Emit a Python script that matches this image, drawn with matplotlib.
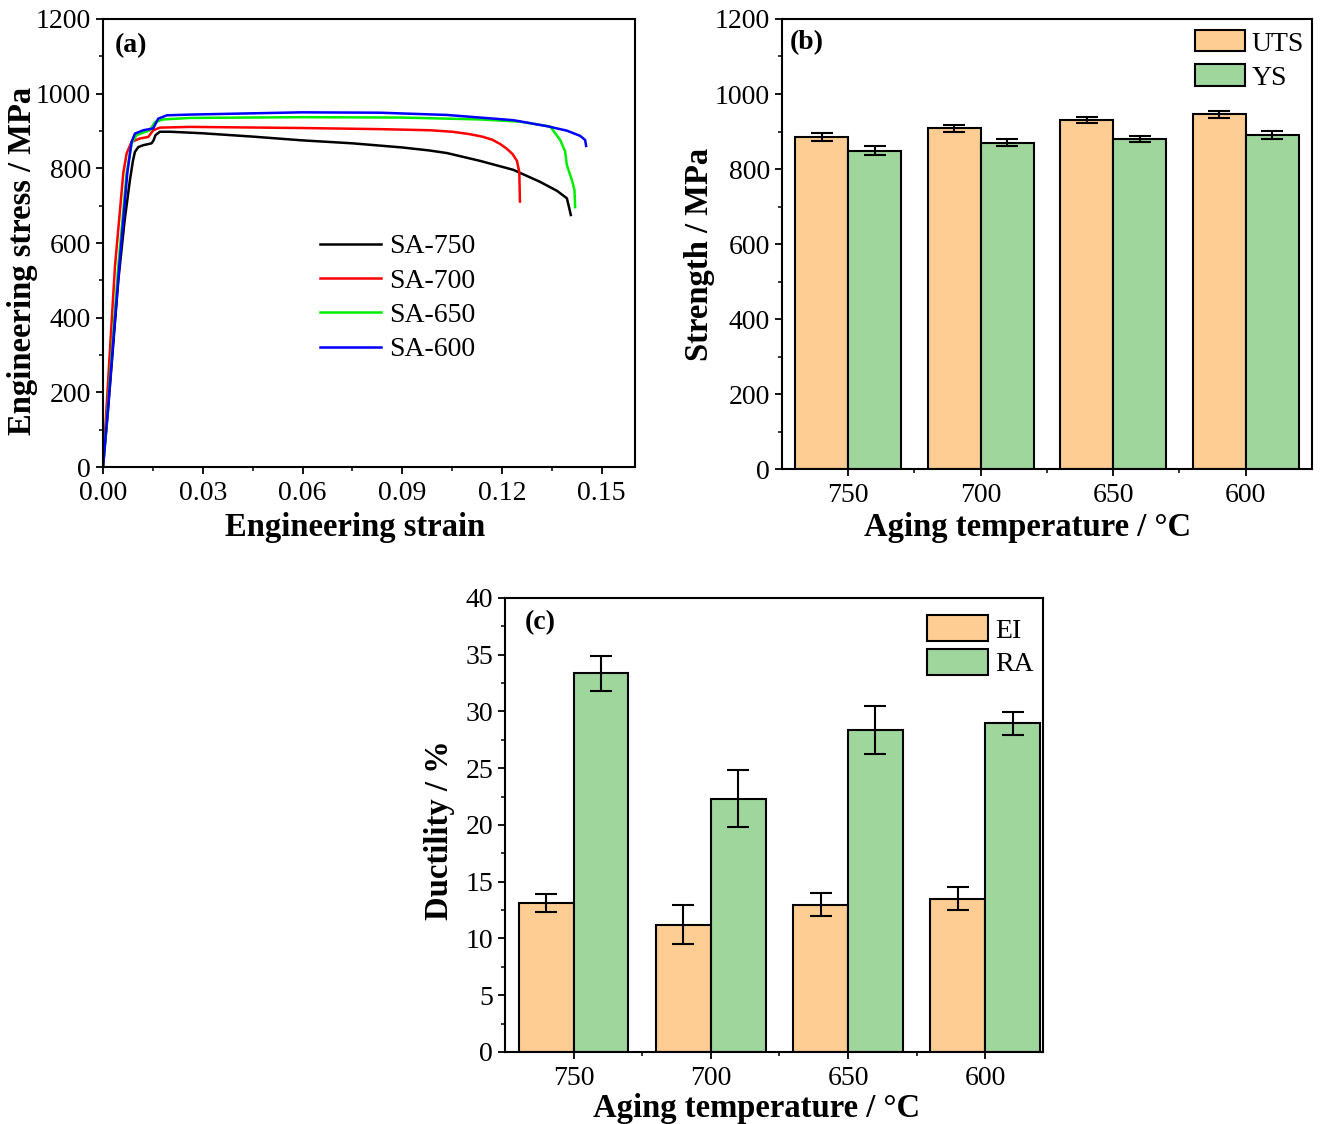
import numpy as np
import matplotlib
matplotlib.use('Agg')
import matplotlib.pyplot as plt
from matplotlib.ticker import MultipleLocator

plt.rcParams['font.family'] = ['Liberation Serif', 'DejaVu Serif']
plt.rcParams['mathtext.fontset'] = 'stix'

# (a) engineering stress-strain curves
sa750_strain = [0, 0.0015, 0.0030, 0.0046, 0.0065, 0.0081, 0.0090, 0.0096, 0.0106, 0.0121,
                0.0146, 0.0152, 0.0158, 0.0171, 0.0202, 0.0298, 0.0450, 0.0598, 0.0750,
                0.0899, 0.0980, 0.1034, 0.1134, 0.1234, 0.1314, 0.1365, 0.1395, 0.1400,
                0.1407]
sa750_stress = [0, 150, 320, 500, 660, 769, 820, 844, 857, 862,
                867, 875, 889, 898, 898, 894, 885, 875, 867,
                856, 848, 841, 820, 796, 764, 740, 720, 702,
                675]

sa700_strain = [0, 0.0012, 0.0024, 0.0036, 0.0061, 0.0071, 0.0086, 0.0111, 0.0136, 0.0151,
                0.0171, 0.0262, 0.0598, 0.0833, 0.0984, 0.1050, 0.1100, 0.1140, 0.1170,
                0.1195, 0.1215, 0.1232, 0.1245, 0.1252, 0.1254]
sa700_stress = [0, 180, 360, 538, 787, 840, 871, 880, 884, 902,
                909, 911, 908, 905, 902, 898, 892, 885, 877,
                865, 852, 838, 820, 790, 711]

sa650_strain = [0, 0.0015, 0.0030, 0.0046, 0.0071, 0.0086, 0.0101, 0.0141, 0.0156, 0.0181,
                0.0262, 0.0598, 0.0899, 0.1134, 0.1254, 0.1345, 0.1375, 0.1390, 0.1395,
                0.1410, 0.1418, 0.1420]
sa650_stress = [0, 170, 350, 538, 787, 867, 889, 902, 924, 931,
                935, 937, 936, 931, 925, 912, 876, 845, 809,
                769, 742, 696]

sa600_strain = [0, 0.0016, 0.0032, 0.0049, 0.0073, 0.0086, 0.0096, 0.0121, 0.0151, 0.0166,
                0.0192, 0.0262, 0.0598, 0.0833, 0.1034, 0.1234, 0.1335, 0.1395, 0.1435,
                0.1450, 0.1453]
sa600_stress = [0, 170, 350, 538, 787, 871, 893, 902, 907, 933,
                942, 944, 950, 949, 943, 929, 913, 901, 887,
                876, 860]

curve_labels = ['SA-750', 'SA-700', 'SA-650', 'SA-600']
curve_colors = ['black', '#ff0000', '#00ee00', '#0000ff']

# (b) strength
temps = ['750', '700', '650', '600']
uts = [885, 909, 931, 946]
uts_err = [10, 9, 8, 10]
ys = [849, 870, 880, 890]
ys_err = [12, 9, 9, 11]

# (c) ductility
ei = [13.15, 11.2, 12.97, 13.5]
ei_err = [0.78, 1.73, 1.0, 1.0]
ra = [33.35, 22.32, 28.35, 28.97]
ra_err = [1.57, 2.5, 2.1, 1.0]

orange = '#fdcd93'
green = '#9ed69b'
tick_fs = 20
label_fs = 23.5


def style_axes(ax):
    for s in ax.spines.values():
        s.set_linewidth(1.5)
    ax.tick_params(which='major', direction='out', length=5, width=1.3,
                   labelsize=tick_fs, top=False, right=False)
    ax.tick_params(which='minor', direction='out', length=3, width=1.1,
                   top=False, right=False)
    ax.tick_params(axis='x', which='major', pad=5)


fig = plt.figure(figsize=(13.24, 11.24), dpi=100)

# ---------- (a)
ax1 = fig.add_axes([0.0778, 0.5845, 0.4018, 0.3986])
curves = [(sa750_strain, sa750_stress), (sa700_strain, sa700_stress),
          (sa650_strain, sa650_stress), (sa600_strain, sa600_stress)]
for (x, y), lab, c in zip(curves, curve_labels, curve_colors):
    ax1.plot(x, y, color=c, lw=1.8, label=lab)
ax1.set_xlim(0, 0.16)
ax1.set_ylim(0, 1200)
ax1.xaxis.set_major_locator(MultipleLocator(0.03))
ax1.xaxis.set_minor_locator(MultipleLocator(0.015))
ax1.yaxis.set_major_locator(MultipleLocator(200))
ax1.yaxis.set_minor_locator(MultipleLocator(100))
ax1.xaxis.set_major_formatter(matplotlib.ticker.FormatStrFormatter('%.2f'))
style_axes(ax1)
ax1.set_xlabel('Engineering strain', fontsize=label_fs, fontweight='bold')
ax1.set_ylabel('Engineering stress / MPa', fontsize=label_fs, fontweight='bold')
ax1.xaxis.set_label_coords(0.474, -0.10)
ax1.yaxis.set_label_coords(-0.122, 0.46)
ax1.text(0.023, 0.94, '(a)', transform=ax1.transAxes, fontsize=20,
         fontweight='bold', va='center')
ax1.legend(loc='upper left', bbox_to_anchor=(0.408, 0.52), frameon=False,
           fontsize=tick_fs, handlelength=2.2, handletextpad=0.3,
           labelspacing=0.32, borderpad=0, borderaxespad=0)

# ---------- (b)
xpos = np.arange(len(temps))
w = 0.4
ax2 = fig.add_axes([0.5906, 0.5827, 0.4003, 0.4004])
ax2.bar(xpos - w / 2, uts, w, yerr=uts_err, color=orange, edgecolor='black',
        linewidth=1.5, capsize=8, error_kw=dict(elinewidth=1.5, capthick=1.5),
        label='UTS')
ax2.bar(xpos + w / 2, ys, w, yerr=ys_err, color=green, edgecolor='black',
        linewidth=1.5, capsize=8, error_kw=dict(elinewidth=1.5, capthick=1.5),
        label='YS')
ax2.set_xlim(-0.5, 3.5)
ax2.set_ylim(0, 1200)
ax2.set_xticks(xpos)
ax2.set_xticklabels(temps)
ax2.set_xticks(xpos[:-1] + 0.5, minor=True)
ax2.yaxis.set_major_locator(MultipleLocator(200))
ax2.yaxis.set_minor_locator(MultipleLocator(100))
style_axes(ax2)
ax2.set_xlabel('Aging temperature / °C', fontsize=label_fs, fontweight='bold')
ax2.set_ylabel('Strength / MPa', fontsize=label_fs, fontweight='bold')
ax2.xaxis.set_label_coords(0.464, -0.096)
ax2.yaxis.set_label_coords(-0.126, 0.476)
ax2.text(0.015, 0.947, '(b)', transform=ax2.transAxes, fontsize=20,
         fontweight='bold', va='center')
ax2.legend(loc='upper right', bbox_to_anchor=(0.985, 0.975), frameon=False,
           fontsize=tick_fs, handlelength=1.8, handleheight=0.8,
           handletextpad=0.25, labelspacing=0.28, borderpad=0, borderaxespad=0)

# ---------- (c)
ax3 = fig.add_axes([0.3814, 0.0641, 0.4063, 0.4039])
ax3.bar(xpos - w / 2, ei, w, yerr=ei_err, color=orange, edgecolor='black',
        linewidth=1.5, capsize=8, error_kw=dict(elinewidth=1.5, capthick=1.5),
        label='EI')
ax3.bar(xpos + w / 2, ra, w, yerr=ra_err, color=green, edgecolor='black',
        linewidth=1.5, capsize=8, error_kw=dict(elinewidth=1.5, capthick=1.5),
        label='RA')
ax3.set_xlim(-0.5, 3.42)
ax3.set_ylim(0, 40)
ax3.set_xticks(xpos)
ax3.set_xticklabels(temps)
ax3.set_xticks(xpos[:-1] + 0.5, minor=True)
ax3.yaxis.set_major_locator(MultipleLocator(5))
ax3.yaxis.set_minor_locator(MultipleLocator(2.5))
style_axes(ax3)
ax3.set_xlabel('Aging temperature / °C', fontsize=label_fs, fontweight='bold')
ax3.set_ylabel('Ductility / %', fontsize=label_fs, fontweight='bold')
ax3.xaxis.set_label_coords(0.467, -0.09)
ax3.yaxis.set_label_coords(-0.093, 0.489)
ax3.text(0.037, 0.945, '(c)', transform=ax3.transAxes, fontsize=20,
         fontweight='bold', va='center')
ax3.legend(loc='upper left', bbox_to_anchor=(0.784, 0.962), frameon=False,
           fontsize=tick_fs, handlelength=2.2, handleheight=1.05,
           handletextpad=0.25, labelspacing=0.2, borderpad=0, borderaxespad=0)

fig.savefig('out.png', dpi=100)
